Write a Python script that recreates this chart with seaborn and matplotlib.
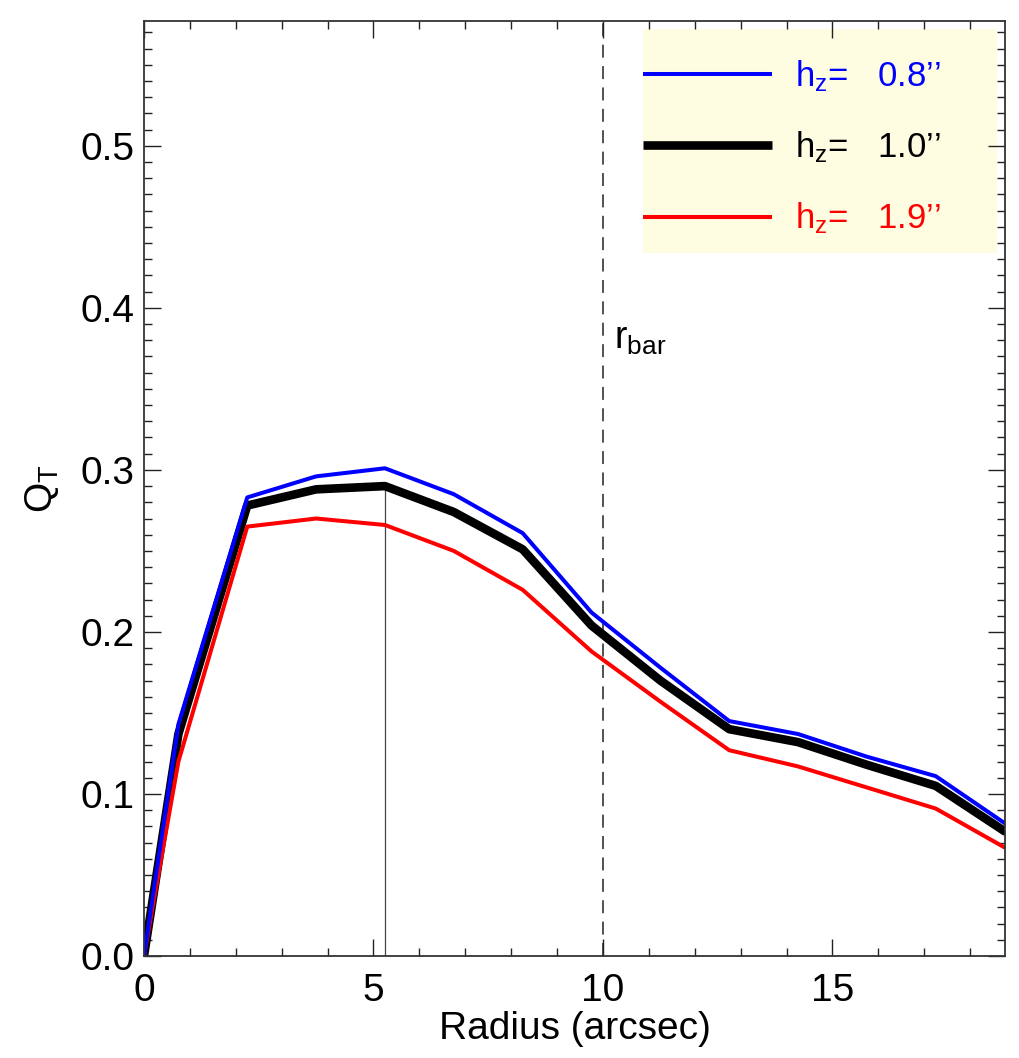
import pandas as pd
import matplotlib as mpl
mpl.use("Agg")
import matplotlib.pyplot as plt
from matplotlib.patches import Rectangle
from matplotlib.ticker import MultipleLocator
import seaborn as sns

# Q_T radial profiles for three vertical scale heights
radius = [0.0, 0.75, 2.25, 3.75, 5.25, 6.75, 8.25, 9.75, 11.25, 12.75, 14.25, 15.75, 17.25, 18.75]
qt_08 = [0.0, 0.143, 0.283, 0.296, 0.301, 0.285, 0.261, 0.212, 0.178, 0.145, 0.137, 0.123, 0.111, 0.082]
qt_10 = [0.0, 0.137, 0.278, 0.288, 0.290, 0.274, 0.251, 0.204, 0.170, 0.140, 0.132, 0.118, 0.105, 0.077]
qt_19 = [0.0, 0.120, 0.265, 0.270, 0.266, 0.250, 0.226, 0.188, 0.157, 0.127, 0.117, 0.104, 0.091, 0.067]
hz_labels = ["0.8", "1.0", "1.9"]
r_bar = 10.0

df = pd.concat([
    pd.DataFrame({"radius": radius, "qt": q, "hz": h})
    for q, h in zip([qt_08, qt_10, qt_19], hz_labels)
])

sns.set_style("ticks")
plt.rcParams["font.family"] = ["Liberation Sans", "DejaVu Sans"]
plt.rcParams["mathtext.fontset"] = "custom"
plt.rcParams["mathtext.rm"] = "Liberation Sans"
plt.rcParams["mathtext.it"] = "Liberation Sans"
plt.rcParams["mathtext.bf"] = "Liberation Sans:bold"
plt.rcParams["text.color"] = "black"
plt.rcParams["axes.labelcolor"] = "black"

colors = {"0.8": "#0000ff", "1.0": "#000000", "1.9": "#ff0000"}
widths = {"0.8": 2.9, "1.0": 6.2, "1.9": 2.9}

fig = plt.figure(figsize=(10.19, 10.58), dpi=100)
ax = fig.add_axes([0.1413, 0.0964, 0.8450, 0.8837])

sns.lineplot(data=df, x="radius", y="qt", hue="hz", size="hz",
             hue_order=["1.0", "1.9", "0.8"], palette=colors, sizes=widths,
             estimator=None, sort=False, legend=False, ax=ax)

# thin line at the peak of the reference profile, dashed line at bar radius
peak = max(range(len(qt_10)), key=lambda i: qt_10[i])
ax.vlines(radius[peak], 0, qt_10[peak], color="#444444", lw=0.9, zorder=1)
ax.axvline(r_bar, color="#222222", lw=1.1, dashes=(8.5, 5.5), zorder=1)
ax.text(10.25, 0.375, r"r$_{\rm bar}$", fontsize=27)

ax.set_xlim(0, 18.76)
ax.set_ylim(0, 0.577)
ax.xaxis.set_major_locator(MultipleLocator(5))
ax.xaxis.set_minor_locator(MultipleLocator(1))
ax.yaxis.set_major_locator(MultipleLocator(0.1))
ax.yaxis.set_minor_locator(MultipleLocator(0.01))
ax.yaxis.set_major_formatter(mpl.ticker.FormatStrFormatter("%.1f"))
ax.tick_params(which="both", direction="in", top=True, right=True,
               labelsize=28, width=1.0, color="#222222", labelcolor="black")
ax.tick_params(which="major", length=12.5)
ax.tick_params(which="minor", length=5.8)
ax.tick_params(axis="x", pad=12)
ax.tick_params(axis="y", pad=7)
for s in ax.spines.values():
    s.set_linewidth(1.3)
    s.set_color("#333333")

ax.set_xlabel("Radius (arcsec)", fontsize=28, labelpad=2)
ax.set_ylabel(r"Q$_{\rm T}$", fontsize=28, labelpad=14)

# legend panel
ax.add_patch(Rectangle((0.5796, 0.7519), 0.4111, 0.2395, transform=ax.transAxes,
                       facecolor="#fefde2", edgecolor="none", zorder=0))
handles = [mpl.lines.Line2D([], [], color=colors[h], lw=widths[h], solid_capstyle="butt")
           for h in hz_labels]
labels = [r"h$_z$=   " + h + "\u2019\u2019" for h in hz_labels]
leg = ax.legend(handles, labels, loc="upper left", bbox_to_anchor=(0.5796, 0.960),
                frameon=False, fontsize=25, handlelength=3.72, handletextpad=0.66,
                labelspacing=1.02, borderpad=0, borderaxespad=0)
for t, h in zip(leg.get_texts(), hz_labels):
    t.set_color(colors[h])

fig.savefig("out.png", dpi=100)
